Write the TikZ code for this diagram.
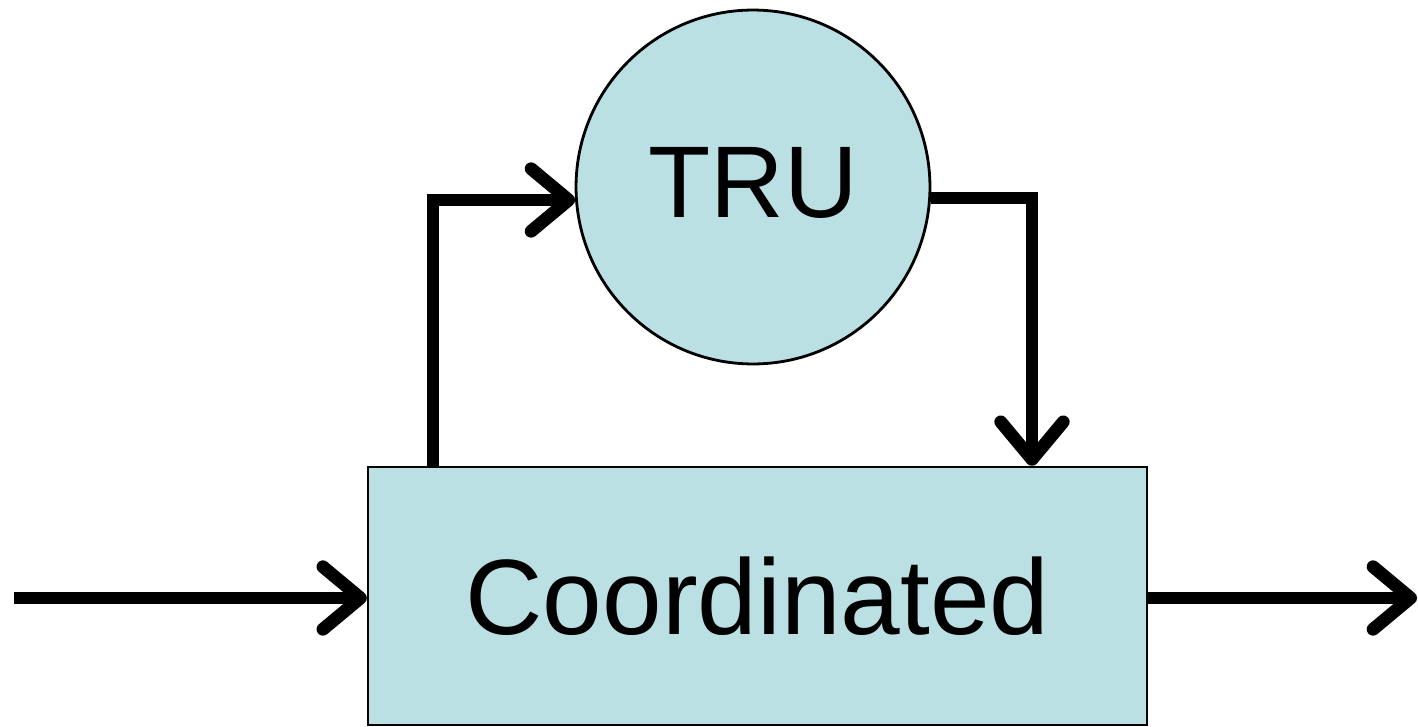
\documentclass[tikz,border=0pt]{standalone}
\usepackage{fontspec}
\setmainfont{Liberation Sans}
\usetikzlibrary{arrows.meta,calc}
\definecolor{boxfill}{RGB}{187,224,228}
\begin{document}
\begin{tikzpicture}[x=0.02cm,y=-0.02cm,
  box/.style={draw=black,line width=1.4pt,fill=boxfill,rectangle,inner sep=0pt,
    minimum width=15.58cm,minimum height=5.16cm},
  disc/.style={draw=black,line width=1.6pt,fill=boxfill,circle,inner sep=0pt,minimum size=7.08cm},
  conn/.style={line width=7.3pt,line join=miter},
  tip/.style={-{Straight Barb[length=0.75cm,width=1.25cm,round]}}]
\useasboundingbox (0,0) rectangle (1418,727);
\node[box] (coord) at (757.5,596) {\fontsize{61}{70}\selectfont Coordinated};
\node[disc] (tru) at (753,187) {\fontsize{58}{66}\selectfont\raisebox{5pt}{TRU}};
\coordinate (in) at (14,598);
\coordinate (out) at (1417,598);
\coordinate (up) at (433,200);
\coordinate (dn) at (1032,198);
\draw[conn,tip] (in) -- (in -| coord.west);
\draw[conn,tip] (coord.east |- out) -- (out);
\draw[conn,tip] (up |- coord.north) -- (up) -- (up -| tru.184.2);
\draw[conn,tip] (dn -| tru.356.4) -- (dn) -- (dn |- coord.north);
\end{tikzpicture}
\end{document}
